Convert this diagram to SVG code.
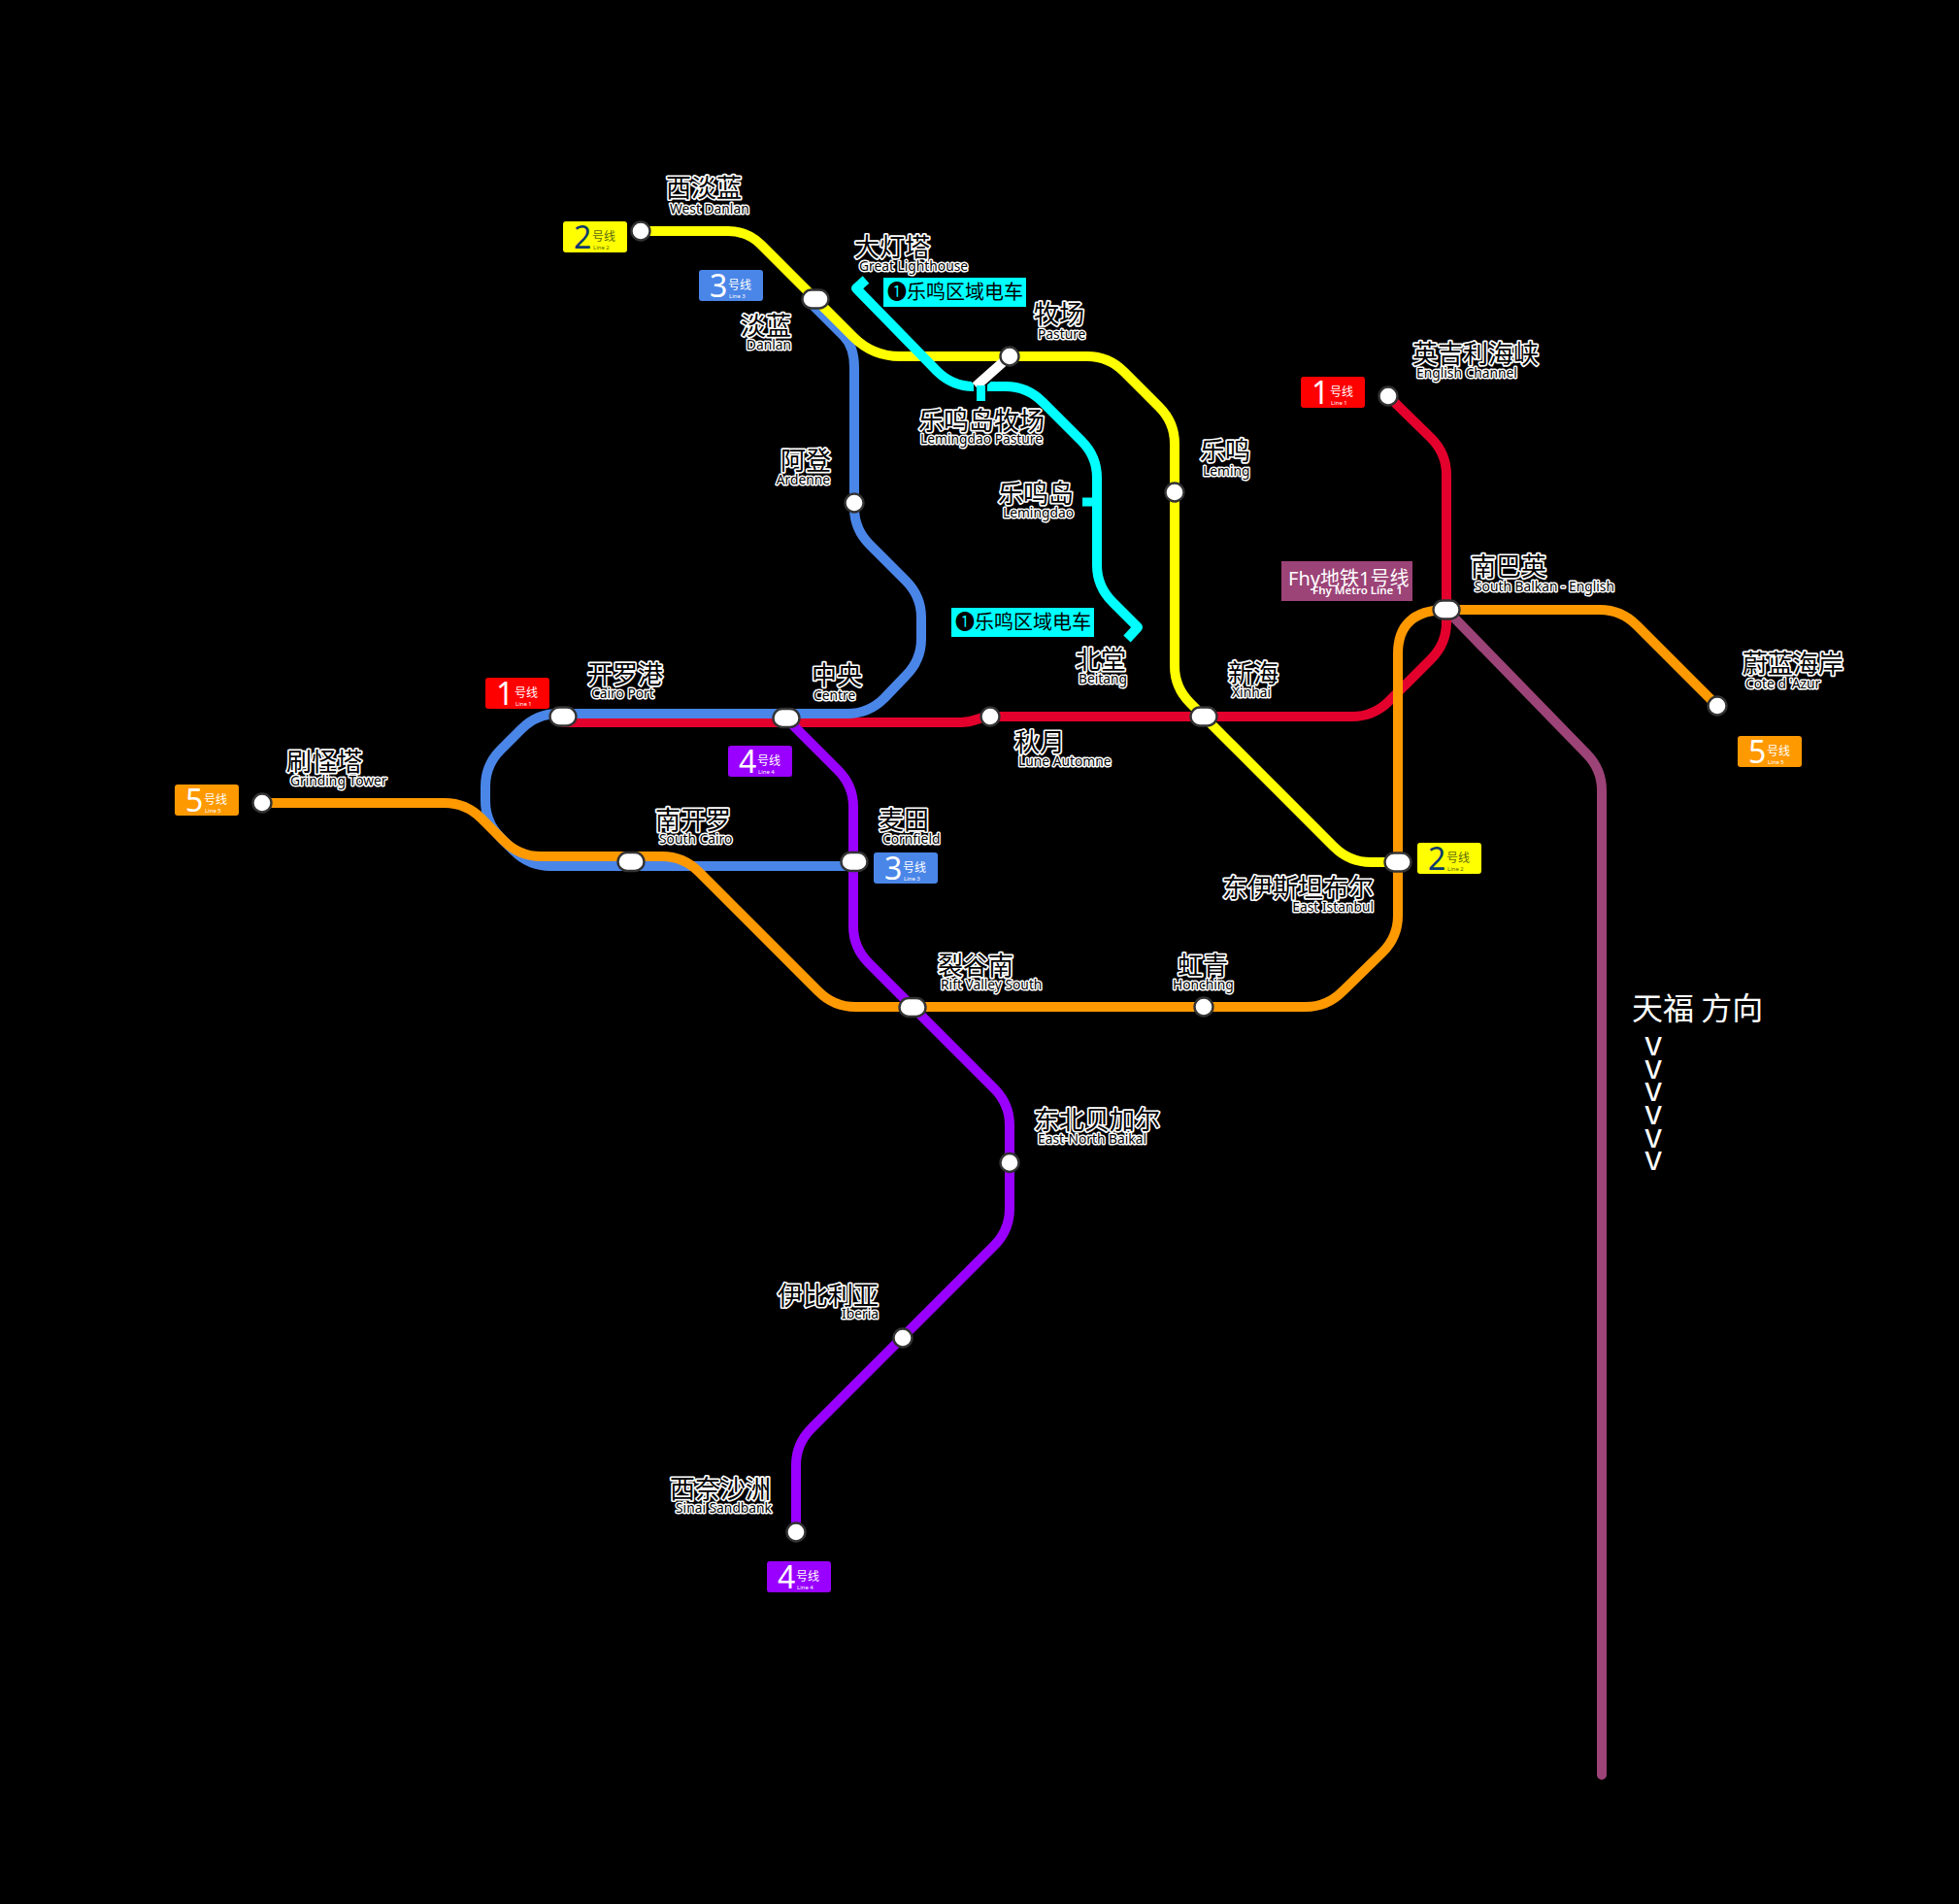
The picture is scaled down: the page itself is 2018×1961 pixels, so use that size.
<svg xmlns="http://www.w3.org/2000/svg" width="2018" height="1961" viewBox="0 0 2018 1961">
<style>
text{font-family:"Noto Sans","Noto Sans CJK SC",sans-serif}
.ln{fill:none;stroke-width:10;stroke-linecap:round;stroke-linejoin:round}
.st{fill:#fff;stroke:#333;stroke-width:2.4}
.cn{font-size:26px;fill:#000;stroke:#fff;stroke-width:3.4;paint-order:stroke;stroke-linejoin:round;font-family:"Noto Sans CJK SC",sans-serif}
.en{font-size:13.8px;fill:#000;stroke:#fff;stroke-width:3;paint-order:stroke;stroke-linejoin:round}
.e{text-anchor:end}
.bd{fill:#fff}
.d{font-size:32px}.h{font-size:12px;font-family:"Noto Sans CJK SC",sans-serif}.l{font-size:6px}
.y text{fill:#0b3a6e}.y .h,.y .l{fill:#5c6a10}
.v{font-size:35px;text-anchor:middle;font-family:"Noto Sans CJK SC",sans-serif}
</style>
<rect width="2018" height="1961" fill="#000"/>
<g id="connectors">
<path class="ln" stroke="#9c4377" d="M1490,628L1634,776Q1650,792 1650,814L1650,1828"/>
<path class="ln" stroke="#e3002c" d="M1430,408L1474,451Q1490,467 1490,489L1490,641Q1490,663 1474,679L1431,722Q1415,738 1393,738L1020,738C1008,738 1005,744 990,744L580,744"/>
<path class="ln" stroke="#4a86e8" d="M838,315L869,346Q880,357 880,379L880,523Q880,545 896,561L933,598Q949,614 949,636L949,658Q949,680 933,696L911,719Q895,735 873,735L575,735Q553,735 537,751L516,772Q500,788 500,810L500,825Q500,847 516,863L529,876Q545,892 567,892L880,892"/>
<path class="ln" stroke="#ff0" d="M660,238L750,238Q770,238 784,252L879,347Q899,367 927,367L1120,367Q1142,367 1158,383L1194,419Q1210,435 1210,457L1210,686Q1210,708 1226,724L1374,872Q1390,888 1412,888L1440,888"/>
<path class="ln" stroke="#90f" d="M809,739L863,793Q879,809 879,831L879,954Q879,976 895,992L1024,1121Q1040,1137 1040,1159L1040,1245Q1040,1267 1024,1283L836,1471Q820,1487 820,1509L820,1578"/>
<path class="ln" stroke="#f90" d="M270,827L458,827Q480,827 496,843L519,866Q535,882 557,882L682,882Q704,882 720,898L843,1021Q859,1037 881,1037L1345,1037Q1367,1037 1383,1021L1424,981Q1440,965 1440,943L1440,673C1440,645 1455,628 1490,628L1648,628Q1670,628 1686,644L1769,727"/>
<path class="ln" stroke="#0ff" style="stroke-linecap:butt" d="M892,288L882,297L965,382Q981,398 1003,398L1036,398Q1058,398 1074,414L1114,454Q1130,470 1130,492L1130,582Q1130,604 1146,620L1172,646L1161,658"/>
<path class="ln" stroke="#000" style="stroke-linecap:butt;stroke-width:14" d="M1018,386L1005,398M1010,396L1010,413"/>
<path class="ln" stroke="#fff" style="stroke-linecap:butt" d="M1040,367L1005,398"/>
<path class="ln" stroke="#0ff" style="stroke-linecap:butt;stroke-width:9" d="M1010.5,397L1010.5,413M1115,517L1130,517"/>
</g>
<g id="n-westdanlan"><circle class="st" cx="660" cy="238" r="9.5"/><text class="cn" x="686" y="203">西淡蓝</text><text class="en" x="690" y="220">West Danlan</text></g>
<g id="n-danlan"><rect class="st" x="826.500" y="298.500" width="27" height="19" rx="9.500"/><text class="cn e" x="815" y="345">淡蓝</text><text class="en e" x="815" y="360">Danlan</text></g>
<g id="n-ardenne"><circle class="st" cx="880" cy="518" r="9.5"/><text class="cn e" x="856" y="484">阿登</text><text class="en e" x="855" y="499">Ardenne</text></g>
<g id="n-lighthouse"><text class="cn" x="880" y="264">大灯塔</text><text class="en" x="885" y="279">Great Lighthouse</text></g>
<g id="n-pasture"><circle class="st" cx="1040" cy="367" r="9.5"/><text class="cn" x="1065" y="333">牧场</text><text class="en" x="1069" y="349">Pasture</text></g>
<g id="n-lemingdaopasture"><text class="cn" x="946" y="443">乐鸣岛牧场</text><text class="en" x="948" y="457">Lemingdao Pasture</text></g>
<g id="n-lemingdao"><text class="cn e" x="1106" y="518">乐鸣岛</text><text class="en e" x="1106" y="533">Lemingdao</text></g>
<g id="n-leming"><circle class="st" cx="1210" cy="507" r="9.5"/><text class="cn" x="1236" y="474">乐鸣</text><text class="en" x="1239" y="490">Leming</text></g>
<g id="n-beitang"><text class="cn" x="1108" y="689">北堂</text><text class="en" x="1111" y="704">Beitang</text></g>
<g id="n-english"><circle class="st" cx="1430" cy="408" r="9.5"/><text class="cn" x="1455" y="374">英吉利海峡</text><text class="en" x="1459" y="389">English Channel</text></g>
<g id="n-southbalkan"><rect class="st" x="1476.500" y="618.500" width="27" height="19" rx="9.500"/><text class="cn" x="1515" y="593">南巴英</text><text class="en" x="1519" y="609">South Balkan - English</text></g>
<g id="n-cote"><circle class="st" cx="1769" cy="727" r="9.5"/><text class="cn" x="1795" y="693">蔚蓝海岸</text><text class="en" x="1798" y="709">Cote d 'Azur</text></g>
<g id="n-cairoport"><rect class="st" x="566.500" y="728.500" width="27" height="19" rx="9.500"/><text class="cn" x="605" y="704">开罗港</text><text class="en" x="609" y="719">Cairo Port</text></g>
<g id="n-centre"><rect class="st" x="796.500" y="730" width="27" height="19" rx="9.500"/><text class="cn" x="836" y="705">中央</text><text class="en" x="838" y="721">Centre</text></g>
<g id="n-lune"><circle class="st" cx="1020" cy="738" r="9.5"/><text class="cn" x="1045" y="774">秋月</text><text class="en" x="1049" y="789">Lune Automne</text></g>
<g id="n-xinhai"><rect class="st" x="1226.500" y="728.500" width="27" height="19" rx="9.500"/><text class="cn" x="1265" y="703">新海</text><text class="en" x="1269" y="718">Xinhai</text></g>
<g id="n-grinding"><circle class="st" cx="270" cy="827" r="9.5"/><text class="cn" x="295" y="794">刷怪塔</text><text class="en" x="299" y="809">Grinding Tower</text></g>
<g id="n-southcairo"><rect class="st" x="636.500" y="878" width="27" height="19" rx="9.500"/><text class="cn" x="675" y="854">南开罗</text><text class="en" x="679" y="869">South Cairo</text></g>
<g id="n-cornfield"><rect class="st" x="866.500" y="878" width="27" height="19" rx="9.500"/><text class="cn" x="905" y="854">麦田</text><text class="en" x="909" y="869">Cornfield</text></g>
<g id="n-istanbul"><rect class="st" x="1426.500" y="878.500" width="27" height="19" rx="9.500"/><text class="cn e" x="1415" y="924">东伊斯坦布尔</text><text class="en e" x="1415" y="939">East Istanbul</text></g>
<g id="n-rift"><rect class="st" x="926.500" y="1028" width="27" height="19" rx="9.500"/><text class="cn" x="966" y="1004">裂谷南</text><text class="en" x="969" y="1019">Rift Valley South</text></g>
<g id="n-honching"><circle class="st" cx="1240" cy="1037" r="9.5"/><text class="cn" x="1213" y="1004">虹青</text><text class="en" x="1208" y="1019">Honching</text></g>
<g id="n-baikal"><circle class="st" cx="1040" cy="1197.500" r="9.5"/><text class="cn" x="1065" y="1163">东北贝加尔</text><text class="en" x="1069" y="1178">East-North Baikal</text></g>
<g id="n-iberia"><circle class="st" cx="930" cy="1378" r="9.5"/><text class="cn e" x="905" y="1344">伊比利亚</text><text class="en e" x="905" y="1358">Iberia</text></g>
<g id="n-sinai"><circle class="st" cx="820" cy="1578" r="9.5"/><text class="cn e" x="794" y="1543">西奈沙洲</text><text class="en e" x="795" y="1558">Sinai Sandbank</text></g>
<g id="b-2a" class="y" transform="translate(580,228)"><rect width="66" height="32" rx="3" fill="#ff0"/><text class="d" x="11" y="28">2</text><text class="h" x="30" y="20">号线</text><text class="l" x="31" y="28.500">Line 2</text></g>
<g id="b-3a" transform="translate(720,278)"><rect width="66" height="32" rx="3" fill="#4a86e8"/><text class="bd d" x="11" y="28">3</text><text class="bd h" x="30" y="20">号线</text><text class="bd l" x="31" y="28.500">Line 3</text></g>
<g id="b-1a" transform="translate(1340,388)"><rect width="66" height="32" rx="3" fill="#f00"/><text class="bd d" x="11" y="28">1</text><text class="bd h" x="30" y="20">号线</text><text class="bd l" x="31" y="28.500">Line 1</text></g>
<g id="b-5a" transform="translate(1790,758)"><rect width="66" height="32" rx="3" fill="#f90"/><text class="bd d" x="11" y="28">5</text><text class="bd h" x="30" y="20">号线</text><text class="bd l" x="31" y="28.500">Line 5</text></g>
<g id="b-5b" transform="translate(180,808)"><rect width="66" height="32" rx="3" fill="#f90"/><text class="bd d" x="11" y="28">5</text><text class="bd h" x="30" y="20">号线</text><text class="bd l" x="31" y="28.500">Line 5</text></g>
<g id="b-1b" transform="translate(500,698)"><rect width="66" height="32" rx="3" fill="#f00"/><text class="bd d" x="11" y="28">1</text><text class="bd h" x="30" y="20">号线</text><text class="bd l" x="31" y="28.500">Line 1</text></g>
<g id="b-4a" transform="translate(750,768)"><rect width="66" height="32" rx="3" fill="#90f"/><text class="bd d" x="11" y="28">4</text><text class="bd h" x="30" y="20">号线</text><text class="bd l" x="31" y="28.500">Line 4</text></g>
<g id="b-3b" transform="translate(900,878)"><rect width="66" height="32" rx="3" fill="#4a86e8"/><text class="bd d" x="11" y="28">3</text><text class="bd h" x="30" y="20">号线</text><text class="bd l" x="31" y="28.500">Line 3</text></g>
<g id="b-2b" class="y" transform="translate(1460,868)"><rect width="66" height="32" rx="3" fill="#ff0"/><text class="d" x="11" y="28">2</text><text class="h" x="30" y="20">号线</text><text class="l" x="31" y="28.500">Line 2</text></g>
<g id="b-4b" transform="translate(790,1608)"><rect width="66" height="32" rx="3" fill="#90f"/><text class="bd d" x="11" y="28">4</text><text class="bd h" x="30" y="20">号线</text><text class="bd l" x="31" y="28.500">Line 4</text></g>
<g id="b-fhy"><rect x="1320" y="578" width="135" height="41" fill="#9c4377"/><text class="bd" x="1327" y="603" style="font-size:20px">Fhy地铁1号线</text><text class="bd" x="1352" y="612" style="font-size:11.5px;font-weight:600">Fhy Metro Line 1</text></g>
<g id="t-a"><rect x="910" y="286" width="147" height="30" fill="#0ff"/><text x="914" y="308" style="font-size:20px;fill:#000">❶乐鸣区域电车</text></g>
<g id="t-b"><rect x="980" y="626" width="147" height="30" fill="#0ff"/><text x="984" y="648" style="font-size:20px;fill:#000">❶乐鸣区域电车</text></g>
<g id="dir" fill="#fff"><text x="1681" y="1050" style="font-size:32px;font-family:'Noto Sans CJK SC',sans-serif">天福 方向</text>
<text class="v" x="1703" y="1087">v</text><text class="v" x="1703" y="1111">v</text><text class="v" x="1703" y="1134">v</text><text class="v" x="1703" y="1158">v</text><text class="v" x="1703" y="1182">v</text><text class="v" x="1703" y="1205">v</text></g>
</svg>
